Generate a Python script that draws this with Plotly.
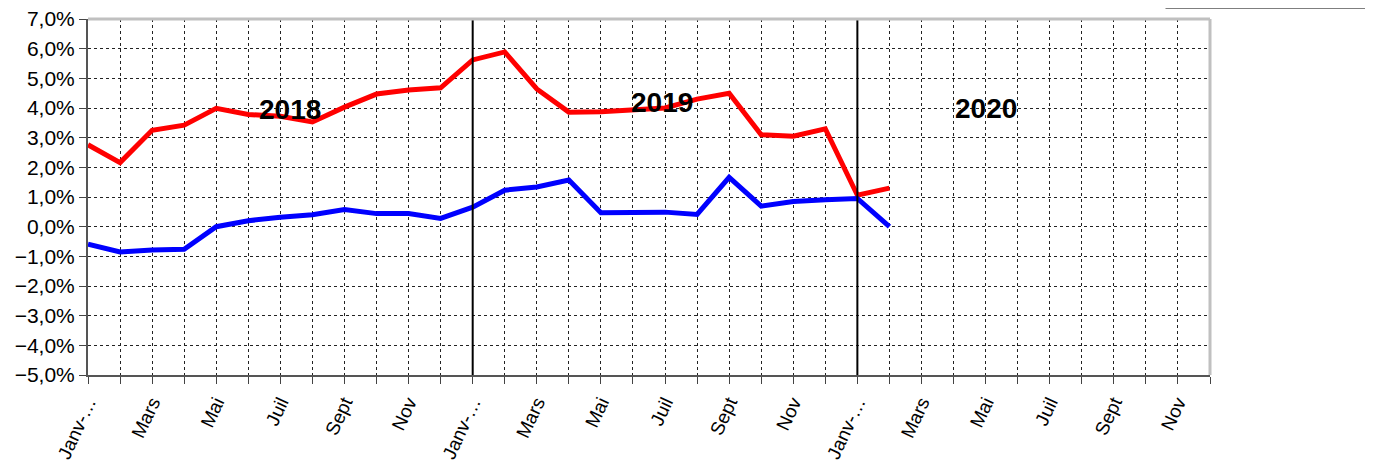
import plotly.graph_objects as go

# 36 months, Jan 2018 -> Dec 2020
month_labels = ["Janv-…", "", "Mars", "", "Mai", "", "Juil", "", "Sept", "", "Nov", ""] * 3
months = list(range(len(month_labels)))

# values in %
red_values = [2.76, 2.16, 3.25, 3.42, 3.99, 3.78, 3.72, 3.53, 4.03, 4.47, 4.61, 4.68,
              5.62, 5.89, 4.64, 3.86, 3.87, 3.93, 4.0, 4.3, 4.5, 3.1, 3.05, 3.3,
              1.06, 1.3]
blue_values = [-0.59, -0.85, -0.79, -0.76, 0.0, 0.2, 0.32, 0.4, 0.58, 0.44, 0.44, 0.28,
               0.66, 1.23, 1.34, 1.57, 0.47, 0.49, 0.49, 0.41, 1.66, 0.69, 0.85, 0.91,
               0.95, 0.0]

years = ["2018", "2019", "2020"]
year_label_x = [6.3, 17.9, 28.0]
year_label_y = [3.95, 4.2, 4.0]
year_starts = [12, 24]

y_ticks = list(range(-5, 8))

fig = go.Figure()
fig.add_trace(go.Scatter(x=months[:len(red_values)], y=[v / 100 for v in red_values],
                         mode="lines", line=dict(color="#ff0000", width=5), showlegend=False))
fig.add_trace(go.Scatter(x=months[:len(blue_values)], y=[v / 100 for v in blue_values],
                         mode="lines", line=dict(color="#0000ff", width=5), showlegend=False))

for xs in year_starts:
    fig.add_shape(type="line", x0=xs, x1=xs, y0=-0.05, y1=0.07, xref="x", yref="y",
                  line=dict(color="black", width=2), layer="above")

for txt, xx, yy in zip(years, year_label_x, year_label_y):
    fig.add_annotation(x=xx, y=yy / 100, text="<b>%s</b>" % txt, showarrow=False,
                       font=dict(size=28, color="black", family="Liberation Sans"))

# border of the (cut off) legend box, top right
fig.add_shape(type="rect", xref="paper", yref="paper", x0=0.961, x1=1.2, y0=1.031, y1=1.2,
              line=dict(color="#555555", width=1.5))

fig.update_xaxes(range=[0, 35], tickmode="array", tickvals=months, ticktext=month_labels,
                 tickangle=-65, ticks="outside", ticklen=7, tickcolor="#444",
                 showgrid=True, gridcolor="#222", griddash="dot", gridwidth=1,
                 showline=True, linecolor="#555", linewidth=2, mirror=False,
                 tickfont=dict(size=19, color="black", family="Liberation Sans"),
                 zeroline=False, automargin=False, ticklabeloverflow="allow")
fig.update_yaxes(range=[-0.05, 0.07], tickmode="array", tickvals=[t / 100 for t in y_ticks],
                 tickformat=".1%", ticks="outside", ticklen=7, tickcolor="#444",
                 showgrid=True, gridcolor="#222", griddash="dot", gridwidth=1,
                 showline=True, linecolor="#555", linewidth=2,
                 tickfont=dict(size=21, color="black", family="Liberation Sans"),
                 zeroline=False, automargin=False, ticklabeloverflow="allow")

# grey top/right frame of the plot area
fig.add_shape(type="line", xref="paper", yref="paper", x0=0, x1=1, y0=1, y1=1,
              line=dict(color="#c0c0c0", width=3))
fig.add_shape(type="line", xref="paper", yref="paper", x0=1, x1=1, y0=0, y1=1,
              line=dict(color="#c0c0c0", width=3))

# page body has an 8px margin, so the figure is shrunk and shifted to compensate
fig.update_layout(width=1365, height=456, separators=", ",
                  margin=dict(l=80, r=163, t=11, b=89, autoexpand=False),
                  plot_bgcolor="white", paper_bgcolor="white",
                  font=dict(family="Liberation Sans", color="black"))

fig.write_html("out.html")
